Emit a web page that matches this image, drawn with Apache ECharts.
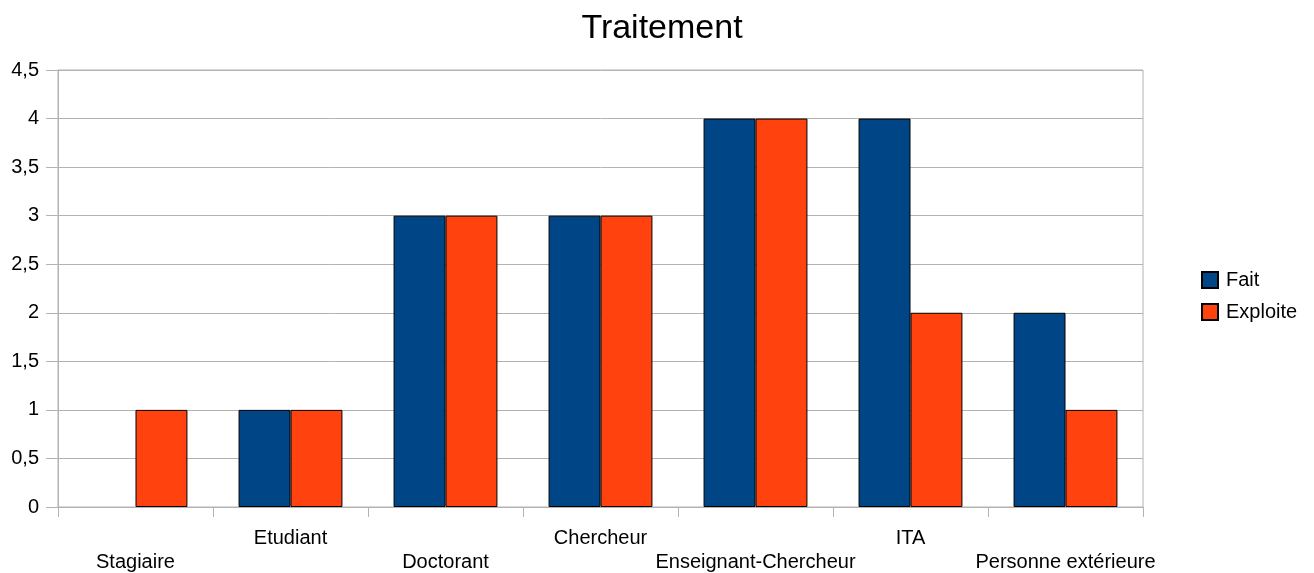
<!DOCTYPE html>
<html>
<head>
<meta charset="utf-8">
<script src="https://cdn.jsdelivr.net/npm/echarts@6/dist/echarts.min.js"></script>
<style>
  html, body { margin: 0; padding: 0; background: #fff; }
  #chart { width: 1314px; height: 573px; }
</style>
</head>
<body>
<div id="chart"></div>
<script>
const categories = ['Stagiaire', 'Etudiant', 'Doctorant', 'Chercheur', 'Enseignant-Chercheur', 'ITA', 'Personne extérieure'];
const fait = [0, 1, 3, 3, 4, 4, 2];
const exploite = [1, 1, 3, 3, 4, 2, 1];
const yTicks = { min: 0, max: 4.5, interval: 0.5 };

const font = 'Liberation Sans, Arial, sans-serif';
const grey = '#b3b3b3';

// A zero-height bar would still show its outline as a flat line; drop the border there.
const barData = values => values.map(v => (v === 0 ? { value: v, itemStyle: { borderWidth: 0 } } : v));

const chart = echarts.init(document.getElementById('chart'));
chart.setOption({
  animation: false,
  backgroundColor: '#fff',
  title: {
    text: 'Traitement',
    left: 662,
    textAlign: 'center',
    top: 12,
    padding: 0,
    textStyle: { fontFamily: font, fontSize: 34, fontWeight: 'normal', color: '#000' }
  },
  legend: {
    orient: 'vertical',
    left: 1201,
    top: 270,
    padding: 0,
    itemWidth: 16,
    itemHeight: 16,
    itemGap: 12,
    icon: 'rect',
    textStyle: { fontFamily: font, fontSize: 20, color: '#000', padding: [0, 0, 0, 3] },
    data: ['Fait', 'Exploite']
  },
  grid: {
    left: 58, right: 171, top: 70, bottom: 66,
    containLabel: false,
    outerBoundsMode: 'none',
    show: true, borderColor: grey, borderWidth: 1
  },
  xAxis: {
    type: 'category',
    data: categories,
    boundaryGap: true,
    axisLine: { lineStyle: { color: grey } },
    axisTick: { show: true, length: 10, lineStyle: { color: grey } },
    axisLabel: {
      interval: 0,
      margin: 19,
      fontFamily: font,
      fontSize: 20,
      color: '#000',
      lineHeight: 24,
      formatter: (v, i) => (i % 2 === 0 ? '\n' + v : v)
    }
  },
  yAxis: {
    type: 'value',
    min: yTicks.min,
    max: yTicks.max,
    interval: yTicks.interval,
    axisLine: { show: true, lineStyle: { color: grey } },
    axisTick: { show: true, length: 12, lineStyle: { color: grey } },
    splitLine: { lineStyle: { color: grey } },
    axisLabel: {
      margin: 19,
      fontFamily: font,
      fontSize: 20,
      color: '#000',
      formatter: v => String(v).replace('.', ',')
    }
  },
  series: [
    {
      name: 'Fait', type: 'bar', data: barData(fait),
      barGap: 0, barCategoryGap: '33%',
      itemStyle: { color: '#004586', borderColor: '#000', borderWidth: 1 }
    },
    {
      name: 'Exploite', type: 'bar', data: barData(exploite),
      barGap: 0, barCategoryGap: '33%',
      itemStyle: { color: '#ff420e', borderColor: '#000', borderWidth: 1 }
    }
  ]
});
</script>
</body>
</html>
